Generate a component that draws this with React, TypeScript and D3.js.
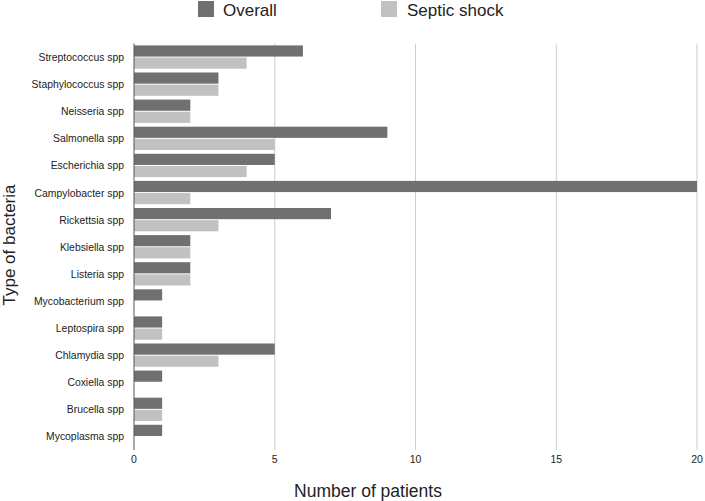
import React from "react";
import * as d3 from "d3";

const categories = [
  "Streptococcus spp", "Staphylococcus spp", "Neisseria spp", "Salmonella spp",
  "Escherichia spp", "Campylobacter spp", "Rickettsia spp", "Klebsiella spp",
  "Listeria spp", "Mycobacterium spp", "Leptospira spp", "Chlamydia spp",
  "Coxiella spp", "Brucella spp", "Mycoplasma spp",
];
const overall = [6, 3, 2, 9, 5, 20, 7, 2, 2, 1, 1, 5, 1, 1, 1];
const septic = [4, 3, 2, 5, 4, 2, 3, 2, 2, 0, 1, 3, 0, 1, 0];
const seriesNames = ["Overall", "Septic shock"];
const xTicks = [0, 5, 10, 15, 20];

const W = 705, H = 501;
const left = 134, right = 697, top = 43.5, bottom = 450;
const colors = ["#707070", "#c1c1c1"];
const font = "Liberation Sans, Arial, Helvetica, sans-serif";

export default function App() {
  const x = d3.scaleLinear().domain([0, 20]).range([left, right]);
  const y = d3.scaleBand().domain(categories).range([top, bottom]).paddingInner(0.14).paddingOuter(0.07);
  const inner = d3.scaleBand().domain(seriesNames).range([0, y.bandwidth()]).paddingInner(0.08);
  const data = [overall, septic];
  return (
    <svg width={W} height={H} style={{ position: "absolute", left: 0, top: 0, background: "#fff" }} fontFamily={font}>
      {/* legend */}
      <rect x={198} y={1} width={16} height={16} fill={colors[0]} />
      <text x={223} y={16} fontSize={17} fill="#222">{seriesNames[0]}</text>
      <rect x={381} y={1} width={16} height={16} fill={colors[1]} />
      <text x={407} y={16} fontSize={17} fill="#222">{seriesNames[1]}</text>
      {/* grid */}
      {xTicks.filter(t => t > 0).map(t => (
        <line key={t} x1={x(t)} x2={x(t)} y1={top} y2={bottom} stroke="#cccccc" strokeWidth={1} />
      ))}
      {/* bars */}
      {categories.map((c, i) => (
        <g key={c}>
          {data.map((s, j) => s[i] > 0 ? (
            <rect key={j} x={x(0)} y={(y(c) as number) + (inner(seriesNames[j]) as number)}
              width={x(s[i]) - x(0)} height={inner.bandwidth()} fill={colors[j]} />
          ) : null)}
          <text x={left - 10} y={(y(c) as number) + y.bandwidth() / 2 + 4} fontSize={10.4} textAnchor="end" fill="#222">{c}</text>
        </g>
      ))}
      {/* axis line */}
      <line x1={left} x2={left} y1={top} y2={bottom} stroke="#555" strokeWidth={1} />
      {xTicks.map(t => (
        <text key={t} x={x(t)} y={463} fontSize={10.5} textAnchor="middle" fill="#222">{t}</text>
      ))}
      <text x={368} y={497} fontSize={17.5} textAnchor="middle" fill="#222">Number of patients</text>
      <text transform={`translate(15, ${245}) rotate(-90)`} fontSize={17} textAnchor="middle" fill="#222">Type of bacteria</text>
    </svg>
  );
}
